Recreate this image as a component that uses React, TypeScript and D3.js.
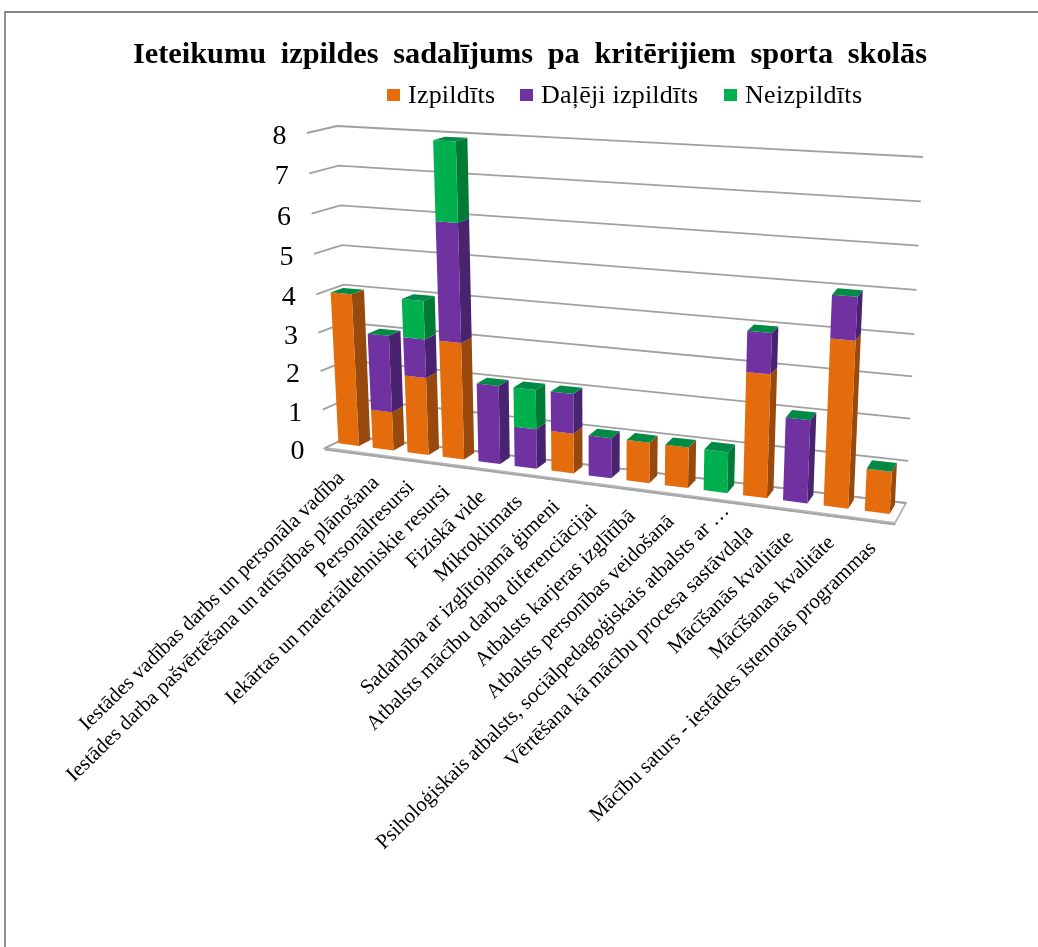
import { useEffect, useRef } from "react";
import * as d3 from "d3";

const categories = [
  "Iestādes vadības darbs un personāla vadība",
  "Iestādes darba pašvērtēšana un attīstības plānošana",
  "Personālresursi",
  "Iekārtas un materiāltehniskie resursi",
  "Fiziskā vide",
  "Mikroklimats",
  "Sadarbība ar izglītojamā ģimeni",
  "Atbalsts mācību darba diferenciācijai",
  "Atbalsts karjeras izglītībā",
  "Atbalsts personības veidošanā",
  "Psiholoģiskais atbalsts, sociālpedagoģiskais atbalsts ar …",
  "Vērtēšana kā mācību procesa sastāvdaļa",
  "Mācīšanās kvalitāte",
  "Mācīšanas kvalitāte",
  "Mācību saturs - iestādes īstenotās programmas",
];
const fulfilled = [4, 1, 2, 3, 0, 0, 1, 0, 1, 1, 0, 3, 0, 4, 1];
const partly = [0, 2, 1, 3, 2, 1, 1, 1, 0, 0, 0, 1, 2, 1, 0];
const notFulfilled = [0, 0, 1, 2, 0, 1, 0, 0, 0, 0, 1, 0, 0, 0, 0];
const yTicks = [0, 1, 2, 3, 4, 5, 6, 7, 8];

const seriesKeys = ["Izpildīts", "Daļēji izpildīts", "Neizpildīts"];
const frontColors = ["#e46c0a", "#7030a0", "#00b050"];
const sideColors = ["#984807", "#4a2070", "#007a35"];
const topColor = "#008a45";

type Pt = [number, number];
// plot box corners, front/back + left/right, at value 0 and at value 8
const box = {
  fl0: [325, 448] as Pt,
  fl8: [307, 133] as Pt,
  bl0: [350, 436] as Pt,
  bl8: [337, 126] as Pt,
  fr0: [895, 523] as Pt,
  fr8: [914, 168] as Pt,
  br0: [906, 503] as Pt,
  br8: [923, 157] as Pt,
};

const lerp = (a: Pt, b: Pt, t: number): Pt => [a[0] + (b[0] - a[0]) * t, a[1] + (b[1] - a[1]) * t];

const heightScale = d3.scaleLinear().domain([0, 4, 8]).range([0, 0.488, 1]);
// bars stand slightly inside the box, so they come out a touch shorter than the walls
const barLevel = d3.scaleLinear().domain([0, 8]).range([0.06, 7.94]);
// slots get wider to the right, the chart has perspective
const warp = (u: number) => (0.9 * u) / (1 - 0.1 * u);

function project(u: number, w: number, v: number): Pt {
  const f = heightScale(v);
  const s = warp(u);
  const front = lerp(lerp(box.fl0, box.fl8, f), lerp(box.fr0, box.fr8, f), s);
  const back = lerp(lerp(box.bl0, box.bl8, f), lerp(box.br0, box.br8, f), s);
  return lerp(front, back, w);
}

const depthFront = 0.27;
const depthBack = 0.73;

export default function App() {
  const svgRef = useRef<SVGSVGElement | null>(null);

  useEffect(() => {
    const svgElement = svgRef.current;
    if (!svgElement) return;
    const svg = d3.select(svgElement);
    svg.selectAll("*").remove();

    const defs = svg.append("defs");
    defs
      .append("filter")
      .attr("id", "soft")
      .attr("filterUnits", "userSpaceOnUse")
      .attr("x", 0)
      .attr("y", 0)
      .attr("width", 1038)
      .attr("height", 947)
      .append("feGaussianBlur")
      .attr("stdDeviation", 0.6);

    const root = svg.append("g").attr("filter", "url(#soft)");

    // chart frame, only top and left show in the crop
    root
      .append("path")
      .attr("d", "M5,947V12H1038")
      .attr("fill", "none")
      .attr("stroke", "#868686")
      .attr("stroke-width", 1.8);

    root
      .append("text")
      .attr("x", 133)
      .attr("y", 63)
      .attr("font-family", "Liberation Serif")
      .attr("font-weight", 700)
      .attr("font-size", 30)
      .attr("word-spacing", 7)
      .attr("textLength", 794)
      .attr("lengthAdjust", "spacingAndGlyphs")
      .text("Ieteikumu izpildes sadalījums pa kritērijiem sporta skolās");

    const legendX = [387, 520, 724];
    const legendW = [87, 157, 117];
    seriesKeys.forEach((key, i) => {
      root
        .append("rect")
        .attr("x", legendX[i])
        .attr("y", 89)
        .attr("width", 13)
        .attr("height", 12)
        .attr("fill", frontColors[i]);
      root
        .append("text")
        .attr("x", legendX[i] + 21)
        .attr("y", 103)
        .attr("font-family", "Liberation Serif")
        .attr("font-size", 26)
        .attr("textLength", legendW[i])
        .attr("lengthAdjust", "spacing")
        .text(key);
    });

    const line = d3.line<Pt>();
    const x = d3
      .scaleBand<number>()
      .domain(d3.range(categories.length))
      .range([0, 1])
      .paddingInner(0.4)
      .paddingOuter(0.2);

    // floor
    const floor: Pt[] = [box.fl0, box.bl0, box.br0, box.fr0];
    root
      .append("path")
      .attr("d", line([box.fl0, [box.fl0[0], box.fl0[1] + 2], [box.fr0[0], box.fr0[1] + 2], box.fr0, box.br0, box.fr0])!)
      .attr("fill", "#9a9a9a")
      .attr("stroke", "#a6a6a6")
      .attr("stroke-width", 1);
    root
      .append("path")
      .attr("d", line(floor)! + "Z")
      .attr("fill", "#ffffff")
      .attr("stroke", "#b5b5b5")
      .attr("stroke-width", 1.8);

    // gridlines on the side and back walls
    yTicks.forEach((tick) => {
      root
        .append("path")
        .attr("d", line([project(0, 0, tick), project(0, 1, tick), project(1, 1, tick)])!)
        .attr("fill", "none")
        .attr("stroke", "#a0a0a0")
        .attr("stroke-width", 1.8);
      const [tx, ty] = project(0, 0, tick);
      root
        .append("text")
        .attr("x", tx - 20.5)
        .attr("y", ty + 11)
        .attr("text-anchor", "end")
        .attr("font-family", "Liberation Serif")
        .attr("font-size", 28)
        .text(tick);
    });

    const rows = categories.map((_, i) => ({
      i,
      [seriesKeys[0]]: fulfilled[i],
      [seriesKeys[1]]: partly[i],
      [seriesKeys[2]]: notFulfilled[i],
    }));
    const stacked = d3.stack<any>().keys(seriesKeys)(rows);

    const bars = root.append("g");
    categories.forEach((_, i) => {
      const u0 = x(i)!;
      const u1 = u0 + x.bandwidth();
      stacked.forEach((layer, s) => {
        const v0 = barLevel(layer[i][0]);
        const v1 = barLevel(layer[i][1]);
        if (v1 === v0) return;
        bars
          .append("path")
          .attr(
            "d",
            line([
              project(u1, depthFront, v0),
              project(u1, depthBack, v0),
              project(u1, depthBack, v1),
              project(u1, depthFront, v1),
            ])! + "Z"
          )
          .attr("fill", sideColors[s]);
        bars
          .append("path")
          .attr(
            "d",
            line([
              project(u0, depthFront, v0),
              project(u1, depthFront, v0),
              project(u1, depthFront, v1),
              project(u0, depthFront, v1),
            ])! + "Z"
          )
          .attr("fill", frontColors[s]);
      });
      const total = barLevel(stacked[stacked.length - 1][i][1]);
      bars
        .append("path")
        .attr(
          "d",
          line([
            project(u0, depthFront, total),
            project(u1, depthFront, total),
            project(u1, depthBack, total),
            project(u0, depthBack, total),
          ])! + "Z"
        )
        .attr("fill", topColor);
    });

    // category labels, rotated like Excel does
    categories.forEach((label, i) => {
      const [lx, ly] = project(x(i)! + x.bandwidth() / 2, 0, 0);
      // the cut-off label runs on a bit further than the rest
      const extra = label.endsWith("…") ? 16 : 0;
      root
        .append("text")
        .attr("transform", `translate(${lx + 3 + extra},${ly + 29 - extra}) rotate(-44.3)`)
        .attr("text-anchor", "end")
        .attr("font-family", "Liberation Serif")
        .attr("font-size", 21)
        .text(label);
    });
  }, []);

  return (
    <svg
      ref={svgRef}
      width={1038}
      height={947}
      viewBox="0 0 1038 947"
      style={{ position: "absolute", left: 0, top: 0, background: "#fff" }}
      role="img"
      aria-label="Ieteikumu izpildes sadalījums pa kritērijiem sporta skolās"
    />
  );
}
